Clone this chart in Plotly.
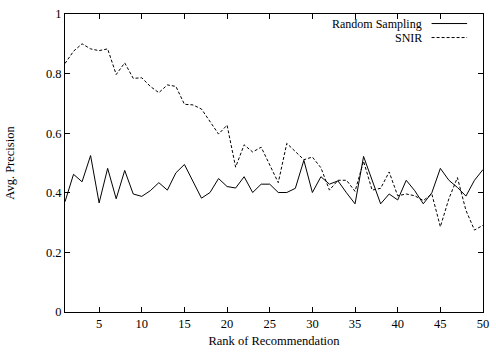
import plotly.graph_objects as go

rank = list(range(1, 51))
random_sampling = [0.37, 0.462, 0.437, 0.525, 0.366, 0.482, 0.38, 0.475, 0.396, 0.388,
                   0.407, 0.434, 0.409, 0.467, 0.495, 0.44, 0.382, 0.401, 0.448, 0.421,
                   0.416, 0.454, 0.401, 0.429, 0.429, 0.401, 0.401, 0.415, 0.509, 0.401,
                   0.454, 0.429, 0.44, 0.40, 0.363, 0.522, 0.44, 0.363, 0.396, 0.376,
                   0.442, 0.407, 0.363, 0.40, 0.482, 0.442, 0.418, 0.389, 0.442, 0.478]
snir = [0.834, 0.875, 0.90, 0.883, 0.877, 0.883, 0.797, 0.836, 0.784, 0.786,
        0.757, 0.736, 0.762, 0.757, 0.697, 0.695, 0.681, 0.638, 0.597, 0.627,
        0.486, 0.561, 0.537, 0.553, 0.492, 0.434, 0.566, 0.539, 0.511, 0.520,
        0.484, 0.409, 0.442, 0.442, 0.405, 0.506, 0.409, 0.415, 0.47, 0.39,
        0.396, 0.39, 0.374, 0.396, 0.286, 0.38, 0.451, 0.341, 0.275, 0.291]
x_ticks = [5, 10, 15, 20, 25, 30, 35, 40, 45, 50]
y_ticks = [0, 0.2, 0.4, 0.6, 0.8, 1]
y_tick_text = ["0", "0.2", "0.4", "0.6", "0.8", "1"]
series_names = ["Random Sampling", "SNIR"]

FONT = "Liberation Serif, Times New Roman, serif"
FS = 12.5

fig = go.Figure()
fig.add_trace(go.Scatter(x=rank, y=random_sampling, mode="lines", name=series_names[0],
                         line=dict(color="black", width=1)))
fig.add_trace(go.Scatter(x=rank, y=snir, mode="lines", name=series_names[1],
                         line=dict(color="black", width=1, dash="3px,2px")))

axis_common = dict(showline=True, linecolor="black", linewidth=1, mirror="allticks",
                   ticks="inside", ticklen=5, tickcolor="black", showgrid=False,
                   zeroline=False, tickfont=dict(family=FONT, size=FS, color="black"))

fig.update_xaxes(range=[1, 50], tickvals=x_ticks, title=dict(text="Rank of Recommendation",
                 font=dict(family=FONT, size=FS, color="black"), standoff=6), **axis_common)
fig.update_yaxes(range=[0, 1], tickvals=y_ticks, ticktext=y_tick_text,
                 title=dict(text="Avg. Precision", font=dict(family=FONT, size=FS, color="black"),
                            standoff=28), **axis_common)

# legend (gnuplot style: text left of sample)
legend_rows = [(0.968, "solid"), (0.921, "3px,2px")]
for (yy, dash), name in zip(legend_rows, series_names):
    fig.add_annotation(xref="paper", yref="paper", x=0.858, y=yy, text=name, showarrow=False,
                       xanchor="right", yanchor="middle",
                       font=dict(family=FONT, size=12, color="black"))
    fig.add_shape(type="line", xref="paper", yref="paper", x0=0.877, x1=0.962, y0=yy, y1=yy,
                  line=dict(color="black", width=1, dash=dash))

fig.update_layout(width=496, height=353, margin=dict(l=65, r=7, t=10, b=40),
                  plot_bgcolor="white", paper_bgcolor="white", showlegend=False,
                  font=dict(family=FONT, size=FS, color="black"))

fig.write_html("out.html", config={"displayModeBar": False},
               post_script="document.body.style.margin='0';")
